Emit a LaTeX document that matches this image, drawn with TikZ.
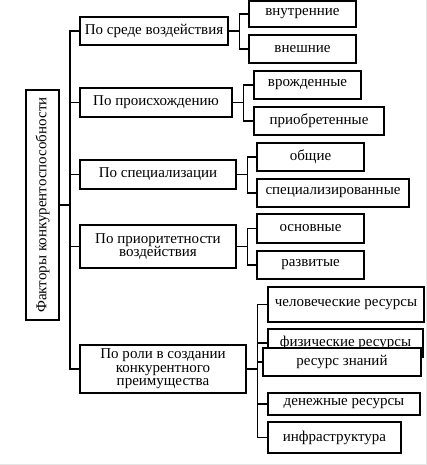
\documentclass[tikz,border=0pt]{standalone}
\usepackage{fontspec}
\setmainfont{Liberation Serif}
\usepackage{graphicx}

\begin{document}
\begin{tikzpicture}[x=1pt, y=-1pt, font=\rmfamily\fontsize{15}{13.5}\selectfont,
    box/.style = {draw, line width=1.5pt, inner sep=0pt, align=center},
    link/.style = {line width=1.5pt}]

    % frame
    \useasboundingbox (0,0) rectangle (427,465);
    \draw[gray!20, line width=1pt] (426,0) -- (426,464) -- (0,464);

    % root
    \node[box, minimum width=33, minimum height=230] (root) at (42.5,205) {\rotatebox{90}{Факторы конкурентоспособности}};

    % groups
    \node[box, minimum width=148, minimum height=28] (b1) at (154,31) {По среде воздействия};
    \node[box, minimum width=152, minimum height=29] (b2) at (156,102.5) {По происхождению};
    \node[box, minimum width=156, minimum height=29] (b3) at (158,174.5) {По специализации};
    \node[box, minimum width=156, minimum height=43] (b4) at (158,246.5) {По приоритетности\\воздействия};
    \node[box, minimum width=166, minimum height=48] (b5) at (163,369) {По роли в создании\\конкурентного\\преимущества};

    % factors
    \node[box, minimum width=107, minimum height=26] (c11) at (302.5,14) {внутренние};
    \node[box, minimum width=107, minimum height=28] (c12) at (302.5,49) {внешние};
    \node[box, minimum width=107, minimum height=28] (c21) at (307.5,85) {врожденные};
    \node[box, minimum width=130, minimum height=28] (c22) at (319,121) {приобретенные};
    \node[box, minimum width=107, minimum height=28] (c31) at (310.5,157) {общие};
    \node[box, minimum width=152, minimum height=28] (c32) at (333,193) {специализированные};
    \node[box, minimum width=107, minimum height=29] (c41) at (310.5,228.5) {основные};
    \node[box, minimum width=107, minimum height=28] (c42) at (310.5,265) {развитые};
    \node[box, minimum width=156, minimum height=35] (c51) at (346,304.5) {человеческие ресурсы};
    \node[box, minimum width=155, minimum height=28] (c52) at (345.5,343) {физические ресурсы};
    \node[box, fill=white, minimum width=158, minimum height=28] (c53) at (342,362) {ресурс знаний};
    \node[box, minimum width=152, minimum height=22] (c54) at (344,404) {денежные ресурсы};
    \node[box, minimum width=133, minimum height=31] (c55) at (334.5,437.5) {инфраструктура};

    % links
    \draw[link] (root.east) -- ++(10,0) coordinate (trunk);
    \foreach \b in {b1,b2,b3,b4,b5}
        \draw[link] (\b.west) -| (trunk);
    \foreach \p/\c in {b1/c11, b1/c12, b2/c21, b2/c22, b3/c31, b3/c32, b4/c41, b4/c42,
                       b5/c51, b5/c52, b5/c53, b5/c54, b5/c55}
        \draw[link] (\p.east) -- ++(10.5,0) |- (\c.west);

\end{tikzpicture}
\end{document}
